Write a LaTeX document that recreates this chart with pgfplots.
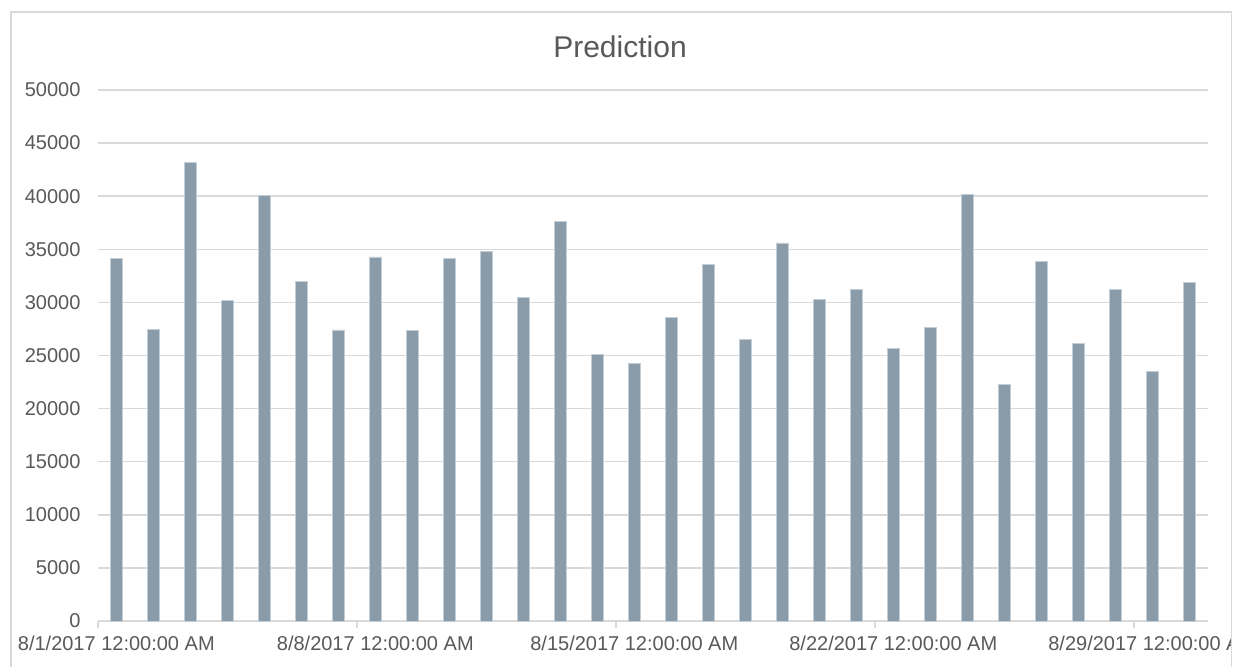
\documentclass[border=0pt]{standalone}
\usepackage{pgfplots}
\pgfplotsset{compat=1.18}
\usepackage{fontspec}
\setmainfont{Liberation Sans}
\definecolor{barc}{RGB}{138,155,170}
\definecolor{gridc}{RGB}{217,217,217}
\definecolor{txt}{RGB}{89,89,89}
\pgfplotstableread{
day value
1 34150
2 27480
3 43180
4 30160
5 40090
6 31950
7 27420
8 34280
9 27360
10 34120
11 34780
12 30500
13 37610
14 25120
15 24270
16 28560
17 33550
18 26510
19 35600
20 30280
21 31260
22 25660
23 27610
24 40160
25 22260
26 33840
27 26130
28 31260
29 23490
30 31920
}\datatable
\begin{document}
\begin{tikzpicture}
\useasboundingbox[fill=white] (-48.9pt,-22.5pt) rectangle (568.1pt,310.5pt);
\draw[gridc, line width=0.75pt] (-43.4pt,-40pt) rectangle (566.95pt,304.5pt);
\node[txt, font=\fontsize{15}{18}\selectfont] at (261.1pt,287pt) {Prediction};
\begin{scope}
\clip (-43pt,-22.5pt) rectangle (566.5pt,304pt);
\begin{axis}[
  scale only axis,
  width=555pt, height=265.5pt,
  xmin=0.5, xmax=30.5, ymin=0, ymax=50000,
  ybar, bar width=6pt,
  axis x line*=bottom, axis y line*=left,
  x axis line style={gridc, line width=0.75pt, -},
  y axis line style={draw=none},
  ymajorgrids, grid style={gridc, line width=0.75pt},
  ytick={0,5000,...,50000},
  ytick style={draw=none},
  scaled y ticks=false,
  /pgf/number format/.cd, 1000 sep={}, assume math mode=true, /pgfplots/.cd,
  tick label style={txt, font=\fontsize{10}{12}\selectfont},
  yticklabel style={anchor=east, inner sep=0pt, xshift=-8.5pt},
  xtick={1,8,15,22,29},
  xticklabels={8/1/2017 12:00:00 AM, 8/8/2017 12:00:00 AM, 8/15/2017 12:00:00 AM, 8/22/2017 12:00:00 AM, 8/29/2017 12:00:00 AM},
  xticklabel style={anchor=base, inner sep=0pt, yshift=-14.5pt},
  major tick length=0pt,
  xtick style={gridc, line width=0.75pt},
  extra x ticks={0.5,7.5,14.5,21.5,28.5},
  extra x tick labels={},
  extra x tick style={major tick length=3.5pt, tick align=outside},
]
\addplot[fill=barc, draw={rgb,255:red,196;green,206;blue,214}, line width=0.3pt] table[x=day, y=value] {\datatable};
\end{axis}
\end{scope}
\end{tikzpicture}
\end{document}
